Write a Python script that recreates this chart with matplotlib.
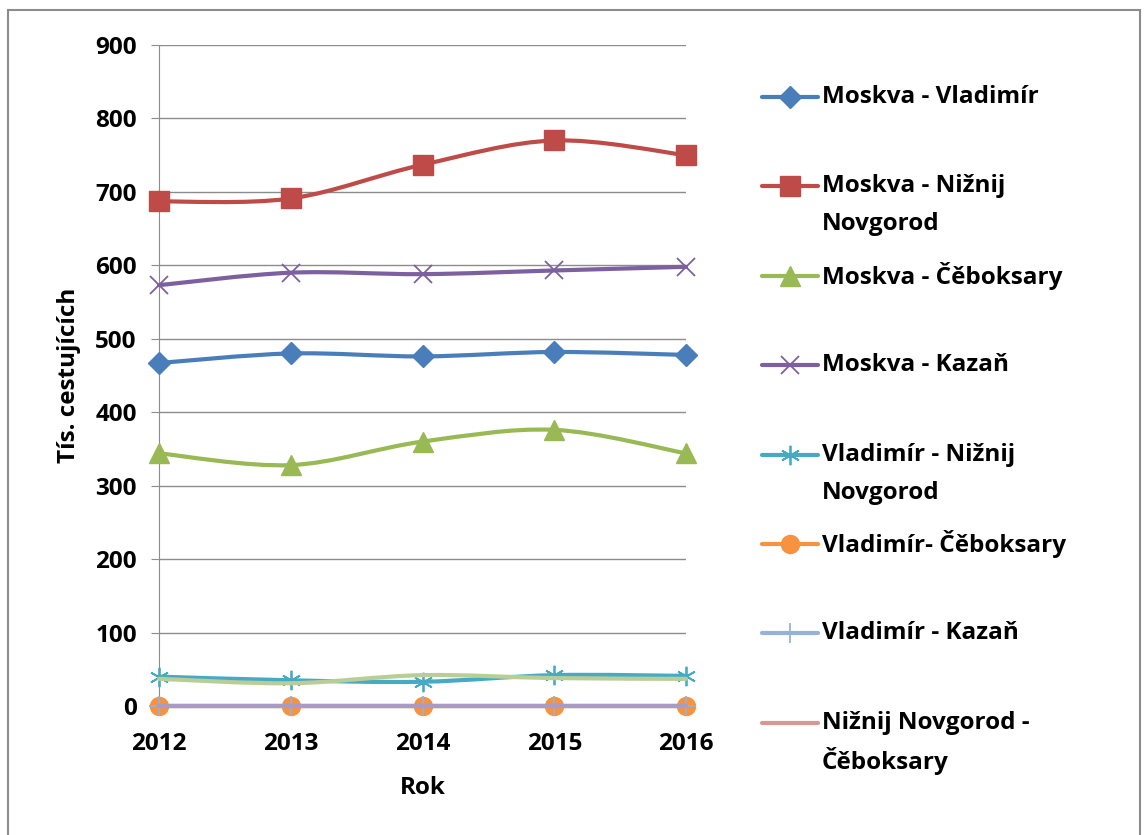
import numpy as np
import matplotlib
matplotlib.use('Agg')
import matplotlib.pyplot as plt
from matplotlib.path import Path
from matplotlib.patches import PathPatch, Rectangle
from matplotlib.lines import Line2D

plt.rcParams['font.family'] = ['Open Sans', 'DejaVu Sans']
plt.rcParams['font.weight'] = 'bold'
plt.rcParams['axes.labelweight'] = 'bold'

years = [2012, 2013, 2014, 2015, 2016]

moskva_vladimir = [467, 480, 476, 482, 478]
moskva_nizhnij = [687, 691, 737, 770, 750]
moskva_ceboksary = [344, 328, 360, 376, 344]
moskva_kazan = [573, 590, 588, 593, 598]
vladimir_nizhnij = [40, 35, 33, 42, 41]
vladimir_ceboksary = [0, 0, 0, 0, 0]
vladimir_kazan = [0, 0, 0, 0, 0]
nizhnij_ceboksary = [0, 0, 0, 0, 0]
# two more series whose legend entries are cut off at the bottom of the picture
series9 = [37, 31, 42, 38, 37]
series10 = [0, 0, 0, 0, 0]

labels = ['Moskva - Vladimír', 'Moskva - Nižnij\nNovgorod', 'Moskva - Čěboksary',
          'Moskva - Kazaň', 'Vladimír - Nižnij\nNovgorod', 'Vladimír- Čěboksary',
          'Vladimír - Kazaň', 'Nižnij Novgorod -\nČěboksary']

yticks = [0, 100, 200, 300, 400, 500, 600, 700, 800, 900]

# (values, label, colour, marker, markersize, marker edge only)
series = [
    (moskva_vladimir, labels[0], '#4A7EBB', 'D', 11, False),
    (moskva_nizhnij, labels[1], '#BE4B48', 's', 14, False),
    (moskva_ceboksary, labels[2], '#98B954', '^', 15, False),
    (moskva_kazan, labels[3], '#7D60A0', 'x', 13, True),
    (vladimir_nizhnij, labels[4], '#46AAC5', (6, 2, 0), 14, True),
    (vladimir_ceboksary, labels[5], '#F69240', 'o', 13, False),
    (vladimir_kazan, labels[6], '#95B3D7', '+', 14, True),
    (nizhnij_ceboksary, labels[7], '#D99694', None, 0, False),
    (series9, None, '#B9CD96', None, 0, False),
    (series10, None, '#A99BC3', None, 0, False),
]


def smooth_path(x, y):
    # Excel style smoothed line as cubic bezier segments
    pts = np.column_stack([x, y]).astype(float)
    ext = np.vstack([pts[0], pts, pts[-1]])
    verts = [pts[0]]
    codes = [Path.MOVETO]
    for i in range(len(pts) - 1):
        p0, p1, p2, p3 = ext[i], ext[i + 1], ext[i + 2], ext[i + 3]
        verts += [p1 + (p2 - p0) / 6, p2 - (p3 - p1) / 6, p2]
        codes += [Path.CURVE4] * 3
    return Path(verts, codes)


W, H = 1144, 835
fs = 17.5
fig = plt.figure(figsize=(W / 100, H / 100), dpi=100)
ax = fig.add_axes([159 / W, 1 - 706 / H, (686 - 159) / W, (706 - 45) / H])

for i, (vals, lab, col, mk, ms, hollow) in enumerate(series):
    ax.add_patch(PathPatch(smooth_path(years, vals), fill=False, edgecolor=col,
                           lw=3, capstyle='round', joinstyle='round',
                           clip_on=False, zorder=3 + i))
    if mk is not None:
        if hollow:
            ax.plot(years, vals, ls='none', marker=mk, ms=ms, mec=col, mew=1.3,
                    clip_on=False, zorder=3 + i)
        else:
            ax.plot(years, vals, ls='none', marker=mk, ms=ms, mfc=col, mec=col,
                    clip_on=False, zorder=3 + i)

ax.set_xlim(2012, 2016)
ax.set_ylim(0, 900)
ax.set_xticks(years)
ax.set_yticks(yticks)
ax.grid(axis='y', color='#8C8C8C', lw=1)
ax.set_axisbelow(True)
for s in ['top', 'right']:
    ax.spines[s].set_visible(False)
ax.spines['left'].set_color('#8C8C8C')
ax.spines['bottom'].set_color('#8C8C8C')
ax.tick_params(axis='y', length=6, color='#8C8C8C', labelsize=fs, pad=10)
ax.tick_params(axis='x', length=0, labelsize=fs, pad=19)
ax.set_ylabel('Tís. cestujících', fontsize=fs, labelpad=10)
ax.set_xlabel('Rok', fontsize=fs, labelpad=14)

# legend drawn by hand so that the marker sits on the first text line
leg_y0, leg_dy, line_dy = 97, 89.4, 38
for i, (vals, lab, col, mk, ms, hollow) in enumerate(series[:8]):
    yp = 1 - (leg_y0 + i * leg_dy) / H
    fig.add_artist(Line2D([762 / W, 818 / W], [yp, yp], color=col, lw=3,
                          solid_capstyle='round'))
    if mk is not None:
        if hollow:
            fig.add_artist(Line2D([790 / W], [yp], marker=mk, ms=ms, mec=col,
                                  mew=1.3, ls='none'))
        else:
            fig.add_artist(Line2D([790 / W], [yp], marker=mk, ms=ms, mfc=col,
                                  mec=col, ls='none'))
    for j, part in enumerate(lab.split('\n')):
        fig.text(822 / W, 1 - (leg_y0 + i * leg_dy + j * line_dy) / H, part,
                 fontsize=fs, va='center', ha='left')

fig.add_artist(Rectangle((8 / W, -0.1), (1140 - 8) / W, 1.1 - 10 / H,
                         transform=fig.transFigure, fill=False,
                         edgecolor='#8C8C8C', lw=1.5))

fig.savefig('out.png', dpi=100)
